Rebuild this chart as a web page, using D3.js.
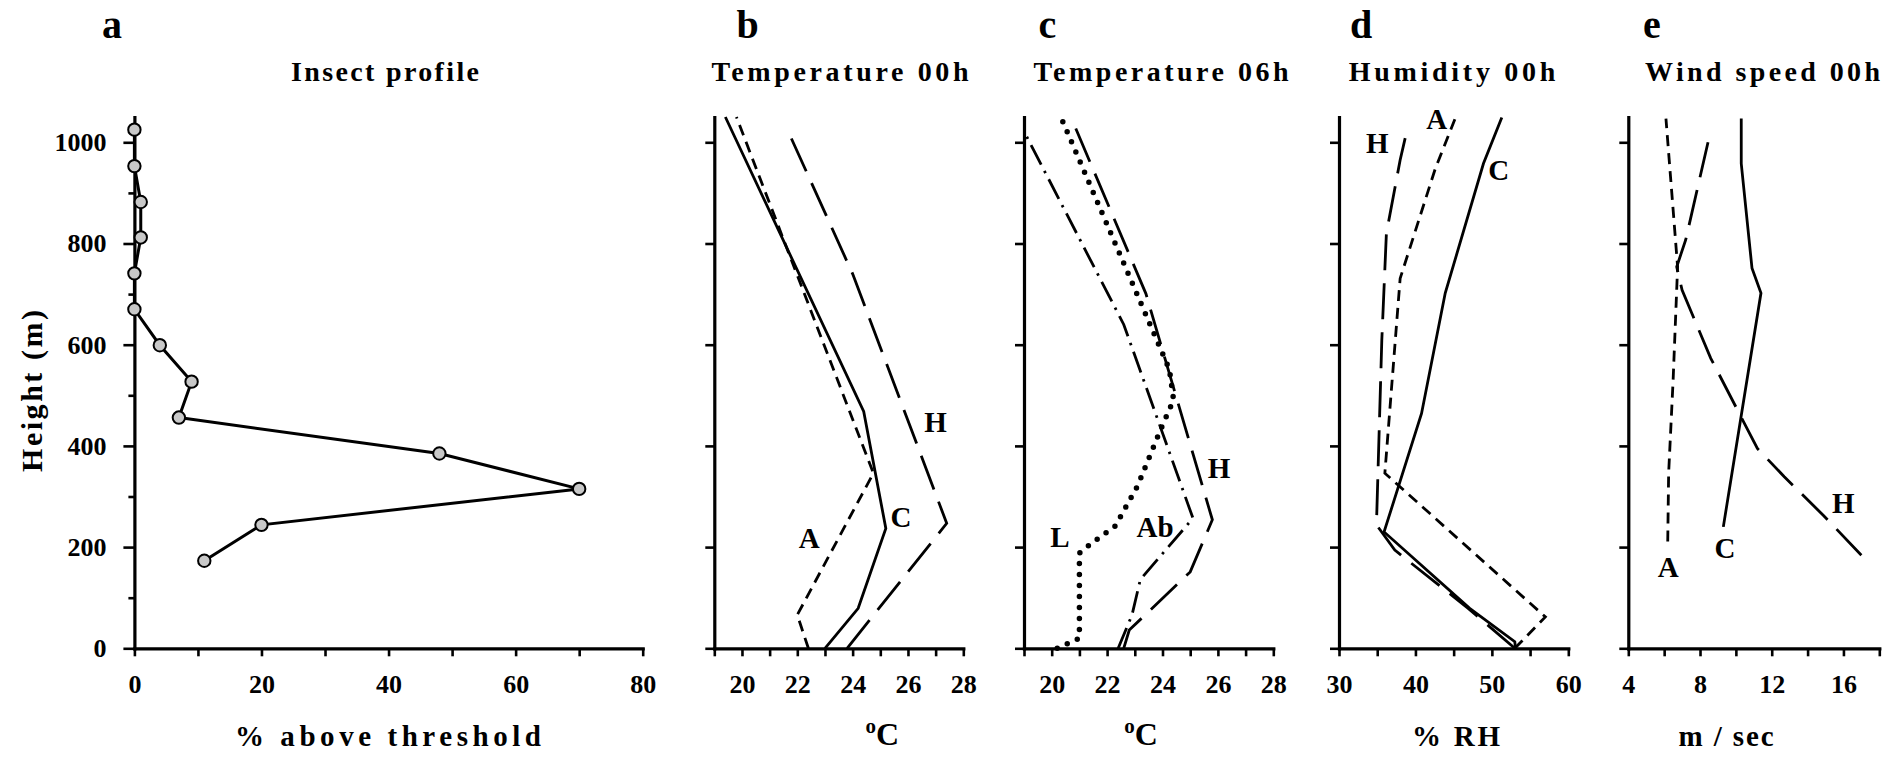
<!DOCTYPE html>
<html>
<head>
<meta charset="utf-8">
<script src="https://cdn.jsdelivr.net/npm/d3@7"></script>
<style>
body{margin:0;background:#fff;}
text{font-family:"Liberation Serif","Times New Roman",serif;font-weight:bold;fill:#000;}
</style>
</head>
<body>
<div id="chart"></div>
<script>
// values: height (m) and the value at that level

// a  insect profile
const insectHeight=[173,244,315,385,456,527,599,670,741,812,882,953,1025];
const insectPct=[11,20,70,48,7,9,4,0,0,1,1,0,0];

// b  temperature 00h
const t00HeightC=[0,79,237,468,1050];
const t00C=[23.0,24.2,25.2,24.4,19.4];
const t00HeightA=[0,66,346,1050];
const t00A=[22.4,22.0,24.75,19.8];
const t00HeightH=[0,247,740,1030];
const t00H=[23.8,27.4,24.0,21.6];

// c  temperature 06h
const t06HeightL=[0,20,188,206,242,321,428,491,551,1041];
const t06L=[20.2,21.0,21.0,21.4,22.3,23.1,23.9,24.4,24.25,20.4];
const t06HeightAb=[0,66,136,257,640,1011];
const t06Ab=[22.4,22.9,23.2,25.1,22.6,19.1];
const t06HeightH=[0,36,151,254,701,1049];
const t06H=[22.6,22.8,25.0,25.8,23.4,20.7];

// d  humidity 00h
const rhHeightC=[0,13,79,230,464,702,958,1049];
const rhC=[53.1,53.0,47.1,35.9,40.8,43.9,48.9,51.3];
const rhHeightA=[0,62,346,731,948,1047];
const rhA=[53.0,57.0,36.0,38.0,42.6,45.2];
const rhHeightH=[0,79,194,244,609,820,965,1024];
const rhH=[53.0,46.9,37.3,34.9,35.6,36.2,38.0,38.9];

// e  wind speed 00h
const wsHeightC=[240,702,751,958,1047];
const wsC=[9.3,11.4,10.9,10.3,10.3];
const wsHeightA=[211,346,530,754,1047];
const wsA=[6.2,6.25,6.5,6.75,6.1];
const wsHeightH=[184,262,339,395,573,708,754,807,1024];
const wsH=[17.0,14.9,12.7,11.2,8.6,7.0,6.7,7.2,8.6];

// tick values
const yTicks=[0,200,400,600,800,1000];
const yMinorTicks=[100,300,500,700,900];
const tickA=[0,10,20,30,40,50,60,70,80];
const tickALabels=[0,20,40,60,80];
const tickT=[19,20,21,22,23,24,25,26,27,28];
const tickTLabels=[20,22,24,26,28];
const tickRH=[30,35,40,45,50,55,60];
const tickRHLabels=[30,40,50,60];
const tickWS=[4,6,8,10,12,14,16,18];
const tickWSLabels=[4,8,12,16];

const zip=(hs,vs)=>hs.map((h,i)=>({h:h,v:vs[i]}));

const styles={
  C:{dash:null,width:2.8,cap:"butt"},
  A:{dash:"11,7",width:2.8,cap:"butt"},
  H:{dash:"36,13",width:2.8,cap:"butt"},
  Ab:{dash:"22,7,2.5,7",width:2.8,cap:"butt"},
  L:{dash:"0,11",width:5.5,cap:"round"}
};

const panels=[
  {letter:"a",title:"Insect profile",titleX:385,titleLen:188,titleSize:28,
   x0:134.4,x1:642.7,domain:[0,80],ticks:tickA,labels:tickALabels,
   xTitle:"% above threshold",xTitleX:388,xTitleLen:306,letterX:112,
   series:[],notes:[]},
  {letter:"b",title:"Temperature 00h",titleX:840,titleLen:257,titleSize:28,
   x0:714.3,x1:963.3,domain:[19,28],ticks:tickT,labels:tickTLabels,
   xTitle:"deg",xTitleX:882.3,letterX:747.5,
   series:[{k:"C",d:zip(t00HeightC,t00C)},{k:"A",d:zip(t00HeightA,t00A)},{k:"H",d:zip(t00HeightH,t00H)}],
   notes:[{t:"H",v:27.0,h:448},{t:"C",v:25.75,h:260},{t:"A",v:22.43,h:217}]},
  {letter:"c",title:"Temperature 06h",titleX:1161,titleLen:255,titleSize:28,
   x0:1024,x1:1273.3,domain:[19,28],ticks:tickT,labels:tickTLabels,
   xTitle:"deg",xTitleX:1141,letterX:1047.5,
   series:[{k:"L",d:zip(t06HeightL,t06L)},{k:"Ab",d:zip(t06HeightAb,t06Ab)},{k:"H",d:zip(t06HeightH,t06H)}],
   notes:[{t:"L",v:20.3,h:220},{t:"Ab",v:23.73,h:240},{t:"H",v:26.04,h:356}]},
  {letter:"d",title:"Humidity 00h",titleX:1452,titleLen:206.7,titleSize:28,
   x0:1339,x1:1568.3,domain:[30,60],ticks:tickRH,labels:tickRHLabels,
   xTitle:"% RH",xTitleX:1456,xTitleLen:88,letterX:1361,
   series:[{k:"C",d:zip(rhHeightC,rhC)},{k:"A",d:zip(rhHeightA,rhA)},{k:"H",d:zip(rhHeightH,rhH)}],
   notes:[{t:"H",v:35.0,h:998},{t:"A",v:42.8,h:1047},{t:"C",v:50.9,h:945}]},
  {letter:"e",title:"Wind speed 00h",titleX:1762.5,titleLen:235,titleSize:28,
   x0:1628.3,x1:1879.3,domain:[4,18],ticks:tickWS,labels:tickWSLabels,
   xTitle:"m / sec",xTitleX:1726,xTitleLen:95,letterX:1652,
   series:[{k:"C",d:zip(wsHeightC,wsC)},{k:"A",d:zip(wsHeightA,wsA)},{k:"H",d:zip(wsHeightH,wsH)}],
   notes:[{t:"A",v:6.23,h:161},{t:"C",v:9.39,h:198},{t:"H",v:15.99,h:287}]}
];

const svgWidth=1899;
const svgHeight=757;
const svg=d3.select("#chart").append("svg")
  .attr("width",svgWidth)
  .attr("height",svgHeight)
  .style("display","block");
svg.append("rect").attr("width",svgWidth).attr("height",svgHeight).attr("fill","#fff");

const yScale=d3.scaleLinear().domain([0,1050]).range([648.3,117]);

function styleAxis(g){
  g.attr("font-family",null).attr("font-size",null);
  g.select(".domain").attr("stroke","#000").attr("stroke-width",3.2).attr("stroke-linecap","square");
  g.selectAll(".tick line").attr("stroke","#000").attr("stroke-width",2.6);
  g.selectAll(".tick text").style("font-size","26px");
}

panels.forEach(p=>{
  const xScale=d3.scaleLinear().domain(p.domain).range([p.x0,p.x1]);

  // x axis
  const bottomAxis=d3.axisBottom(xScale)
    .tickValues(p.ticks).tickSize(8).tickSizeOuter(0).tickPadding(18)
    .tickFormat(d=>p.labels.includes(d)?d:"");
  const xAxis=svg.append("g").attr("transform",`translate(0,${yScale(0)})`).call(bottomAxis);
  styleAxis(xAxis);

  // y axis
  const isA=p.letter==="a";
  const leftAxis=d3.axisLeft(yScale)
    .tickValues(yTicks).tickSize(isA?11:9).tickSizeOuter(0).tickPadding(17)
    .tickFormat(d=>isA?d:"");
  const yAxis=svg.append("g").attr("transform",`translate(${p.x0},0)`).call(leftAxis);
  styleAxis(yAxis);

  if(isA){
    const minor=svg.append("g").attr("transform",`translate(${p.x0},0)`)
      .call(d3.axisLeft(yScale).tickValues(yMinorTicks).tickSize(6).tickFormat(""));
    minor.select(".domain").remove();
    minor.selectAll(".tick line").attr("stroke","#000").attr("stroke-width",2.6);
  }

  // panel letter and title
  svg.append("text").attr("x",p.letterX).attr("y",38).attr("text-anchor","middle")
    .style("font-size","40px").text(p.letter);
  svg.append("text").attr("x",p.titleX).attr("y",81).attr("text-anchor","middle")
    .attr("textLength",p.titleLen).attr("lengthAdjust","spacing")
    .style("font-size",p.titleSize+"px").text(p.title);

  // x axis title
  if(p.xTitle==="deg"){
    const t=svg.append("text").attr("x",p.xTitleX).attr("y",745).attr("text-anchor","middle")
      .style("font-size","32px");
    t.append("tspan").attr("dy",-12).style("font-size","21px").text("o");
    t.append("tspan").attr("dy",12).text("C");
  } else {
    svg.append("text").attr("x",p.xTitleX).attr("y",746).attr("text-anchor","middle")
      .attr("textLength",p.xTitleLen).attr("lengthAdjust","spacing")
      .style("font-size","29px").text(p.xTitle);
  }

  // profile lines
  const line=d3.line().x(d=>xScale(d.v)).y(d=>yScale(d.h));
  p.series.forEach(s=>{
    const st=styles[s.k];
    svg.append("path").datum(s.d)
      .attr("d",line)
      .attr("fill","none")
      .attr("stroke","#000")
      .attr("stroke-width",st.width)
      .attr("stroke-linecap",st.cap)
      .attr("stroke-linejoin","miter")
      .attr("stroke-dasharray",st.dash);
  });

  // curve labels
  svg.append("g").selectAll("text")
    .data(p.notes)
    .enter()
    .append("text")
    .attr("x",d=>xScale(d.v))
    .attr("y",d=>yScale(d.h)+10)
    .attr("text-anchor","middle")
    .style("font-size","29px")
    .text(d=>d.t);

  if(isA){
    const pts=zip(insectHeight,insectPct);
    svg.append("path").datum(pts)
      .attr("d",line)
      .attr("fill","none")
      .attr("stroke","#000")
      .attr("stroke-width",3);
    svg.append("g").selectAll("circle")
      .data(pts)
      .enter()
      .append("circle")
      .attr("cx",d=>xScale(d.v))
      .attr("cy",d=>yScale(d.h))
      .attr("r",6.2)
      .attr("fill","#c8c8c8")
      .attr("stroke","#000")
      .attr("stroke-width",2);
  }
});

// y axis title
svg.append("text")
  .attr("transform","translate(41.5,391)rotate(-90)")
  .attr("text-anchor","middle")
  .attr("textLength",162).attr("lengthAdjust","spacing")
  .style("font-size","30px")
  .text("Height (m)");
</script>
</body>
</html>
